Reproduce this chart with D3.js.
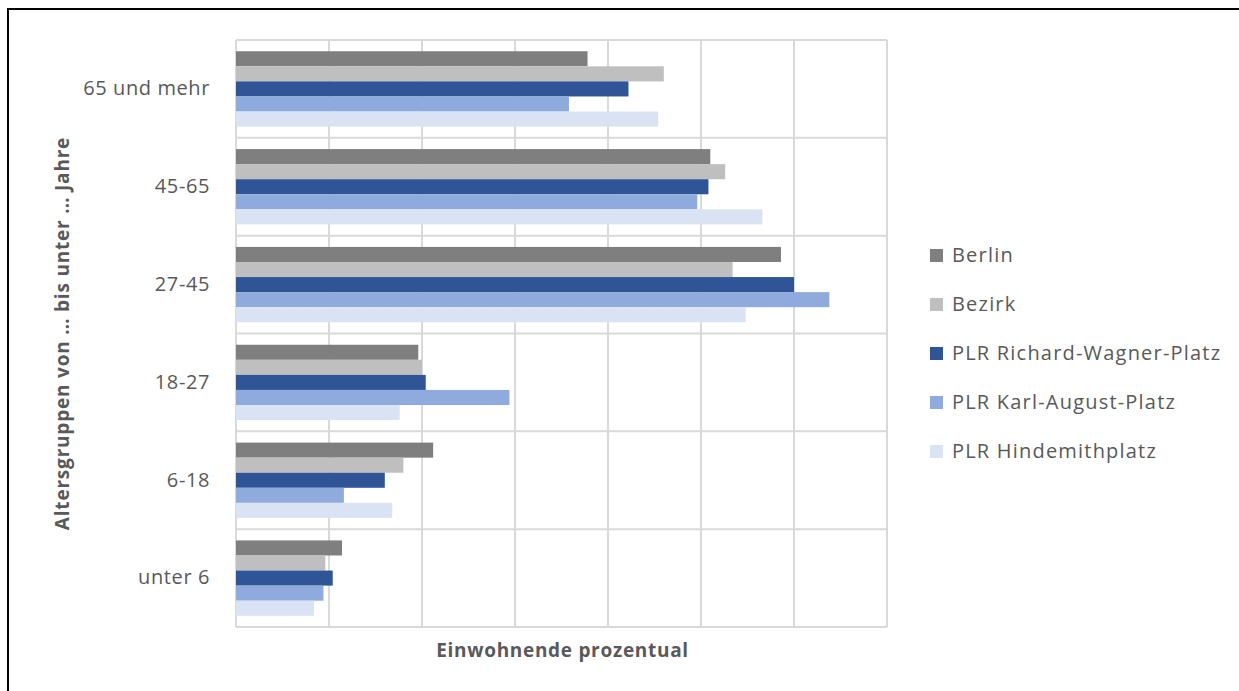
<!DOCTYPE html>
<html lang="de">
<head>
<meta charset="utf-8">
<script src="https://cdn.jsdelivr.net/npm/d3@7"></script>
<style>
  html, body { margin: 0; padding: 0; background: #fff; }
  svg { display: block; }
  text { font-family: "Open Sans", Lato, sans-serif; fill: #595959; }
</style>
</head>
<body>
<svg id="chart" width="1239" height="691"></svg>
<script>
// Altersgruppen (von oben nach unten)
const categories = ["65 und mehr", "45-65", "27-45", "18-27", "6-18", "unter 6"];
const seriesNames = ["Berlin", "Bezirk", "PLR Richard-Wagner-Platz", "PLR Karl-August-Platz", "PLR Hindemithplatz"];

// Anteile der Einwohnenden in Prozent, je Altersgruppe
const berlin    = [18.9, 25.5, 29.3,  9.8, 10.6, 5.7];
const bezirk    = [23.0, 26.3, 26.7, 10.0,  9.0, 4.8];
const richardWP = [21.1, 25.4, 30.0, 10.2,  8.0, 5.2];
const karlAP    = [17.9, 24.8, 31.9, 14.7,  5.8, 4.7];
const hindemith = [22.7, 28.3, 27.4,  8.8,  8.4, 4.2];

const xTicks = [0, 5, 10, 15, 20, 25, 30, 35];
const colors = ["#7f7f7f", "#bfbfbf", "#2f5597", "#8faadc", "#dae3f3"];

const seriesValues = [berlin, bezirk, richardWP, karlAP, hindemith];

const svg = d3.select("#chart");

// Rahmen
svg.append("rect")
  .attr("x", 8).attr("y", 9)
  .attr("width", 1260).attr("height", 700)
  .attr("fill", "none").attr("stroke", "#000").attr("stroke-width", 2);

const plot = { left: 236, right: 887, top: 40, bottom: 627 };

const x = d3.scaleLinear().domain([0, 35]).range([plot.left, plot.right]);
const y = d3.scaleBand().domain(categories).range([plot.top, plot.bottom]).paddingInner(0).paddingOuter(0);
const ySub = d3.scaleBand().domain(seriesNames)
  .range([y.bandwidth() * 0.115, y.bandwidth() * 0.885]).padding(0);

const gridColor = "#d9d9d9";

// vertikale Gitterlinien
svg.append("g").selectAll("line").data(xTicks).join("line")
  .attr("x1", d => x(d)).attr("x2", d => x(d))
  .attr("y1", plot.top).attr("y2", plot.bottom)
  .attr("stroke", gridColor).attr("stroke-width", 2);

// horizontale Trennlinien zwischen den Altersgruppen
const hLines = categories.map(c => y(c)).concat([plot.bottom]);
svg.append("g").selectAll("line").data(hLines).join("line")
  .attr("x1", plot.left).attr("x2", plot.right)
  .attr("y1", d => d).attr("y2", d => d)
  .attr("stroke", gridColor).attr("stroke-width", 2);

// Balken
const groups = svg.append("g").selectAll("g").data(categories).join("g")
  .attr("transform", c => `translate(0,${y(c)})`);

groups.selectAll("rect")
  .data((c, i) => seriesNames.map((s, j) => ({ s, j, v: seriesValues[j][i] })))
  .join("rect")
  .attr("x", x(0))
  .attr("y", d => ySub(d.s))
  .attr("width", d => x(d.v) - x(0))
  .attr("height", ySub.bandwidth())
  .attr("fill", d => colors[d.j]);

// Kategorienbeschriftung
const yAxis = d3.axisLeft(y).tickSize(0).tickPadding(26);
const gy = svg.append("g").attr("transform", `translate(${plot.left},0)`).call(yAxis);
gy.select(".domain").remove();
gy.selectAll("text")
  .style("font-family", "'Open Sans', Lato, sans-serif")
  .style("font-size", "20px")
  .style("letter-spacing", "0.6px")
  .attr("fill", "#595959");

// Achsentitel
svg.append("text")
  .attr("transform", `translate(69,${(plot.top + plot.bottom) / 2}) rotate(-90)`)
  .attr("text-anchor", "middle")
  .style("font-size", "19px").style("font-weight", "bold")
  .style("letter-spacing", "0.8px")
  .text("Altersgruppen von … bis unter … Jahre");

svg.append("text")
  .attr("x", (plot.left + plot.right) / 2 + 1).attr("y", 657)
  .attr("text-anchor", "middle")
  .style("font-size", "19px").style("font-weight", "bold")
  .style("letter-spacing", "0.7px")
  .text("Einwohnende prozentual");

// Legende
const legend = svg.append("g").selectAll("g").data(seriesNames).join("g")
  .attr("transform", (d, i) => `translate(930,${255 + i * 49})`);
legend.append("rect")
  .attr("x", 0).attr("y", -6).attr("width", 13).attr("height", 13)
  .attr("fill", (d, i) => colors[i]);
legend.append("text")
  .attr("x", 22).attr("y", 0).attr("dy", "0.35em")
  .style("font-size", "20px")
  .style("letter-spacing", "1.2px")
  .text(d => d);
</script>
</body>
</html>
